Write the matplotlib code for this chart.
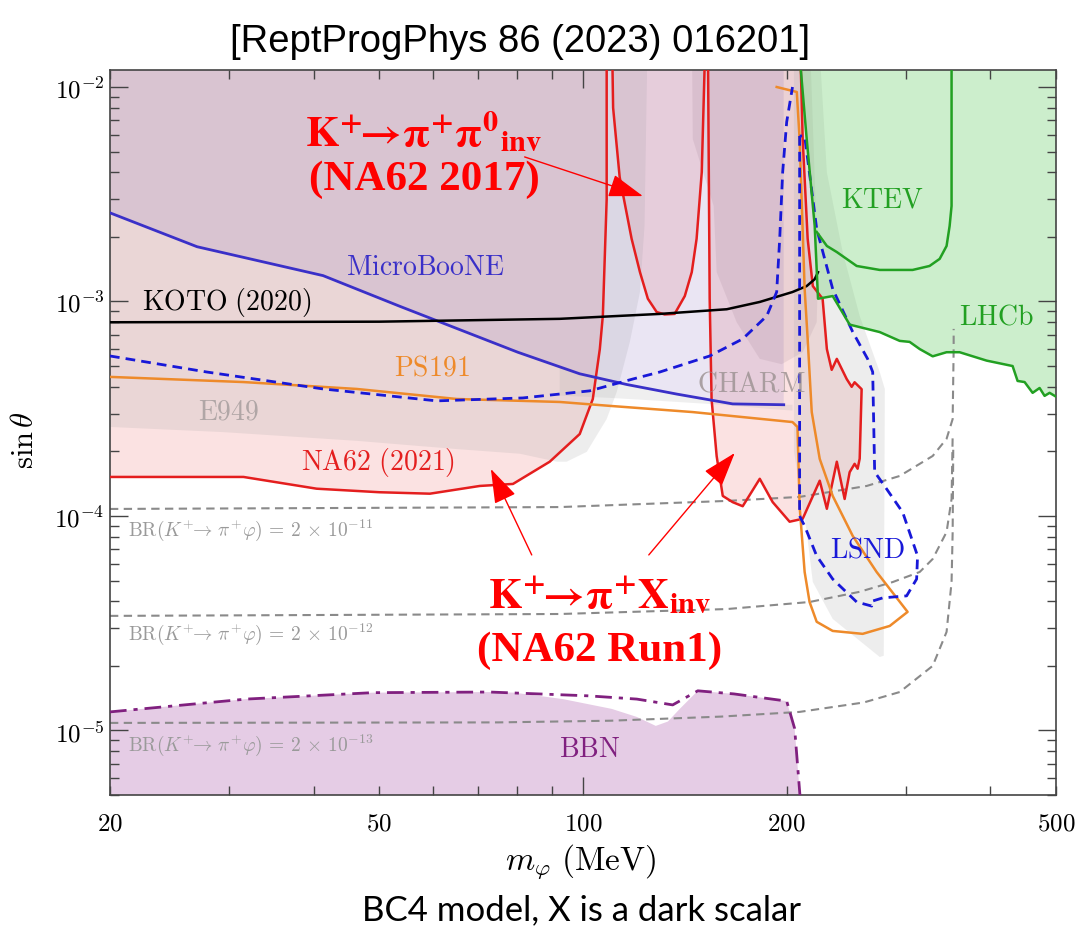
import numpy as np
import matplotlib
matplotlib.use("Agg")
import matplotlib.pyplot as plt
from matplotlib.ticker import FixedLocator, NullFormatter, LogLocator

plt.rcParams['mathtext.fontset'] = 'cm'
plt.rcParams['font.family'] = ['DejaVu Serif']

TOP = 2e-2      # polygons are closed above / below the visible window
BOT = 1e-6

# ---------------- data (mass in MeV, sin theta) ----------------
# NA62 (2021) K+ -> pi+ X exclusion
na62_21_x = [20, 31.5, 40.4, 50, 59.4, 70.4, 78.8, 89.3, 98.9, 103.4, 105.9, 107, 108.4, 108.4]
na62_21_y = [1.52e-4, 1.52e-4, 1.34e-4, 1.29e-4, 1.27e-4, 1.38e-4, 1.41e-4, 1.79e-4, 2.41e-4,
             3.51e-4, 6.0e-4, 8.6e-4, 3e-3, TOP]

# NA62 2017 K+ -> pi+ pi0_inv (U shape)
na62_17_x = [110.3, 110.8, 113.3, 118.0, 121.4, 124.7, 128.5, 132.0, 136.6, 141.4, 144.8, 147.2, 149.8, 151.9]
na62_17_y = [TOP, 8e-3, 3.8e-3, 1.96e-3, 1.37e-3, 1.03e-3, 8.93e-4, 8.7e-4, 8.75e-4, 1.06e-3,
             1.37e-3, 1.96e-3, 4.0e-3, TOP]

# NA62 Run1 K+ -> pi+ X_inv
na62_r1_x = [152.9, 153.9, 154.9, 157.6, 160.9, 166.4, 172.2, 182.5, 190.7, 202, 211.2, 223.8, 229.3,
             237.2, 243.6, 247.8, 252, 254.6, 256.4, 258.1, 252, 249.5, 245.3, 237.2, 233.1, 229.3,
             226, 218.6, 214.8, 211.2, 209]
na62_r1_y = [TOP, 1.03e-3, 3.5e-4, 1.9e-4, 1.24e-4, 1.16e-4, 1.11e-4, 1.49e-4, 1.16e-4, 9.4e-5, 9.7e-5,
             1.46e-4, 1.08e-4, 1.79e-4, 1.2e-4, 1.6e-4, 1.75e-4, 1.66e-4, 1.85e-4, 3.9e-4, 4.2e-4,
             4.0e-4, 4.35e-4, 5.4e-4, 4.8e-4, 6.0e-4, 1.03e-3, 1.18e-3, 1.96e-3, 5.7e-3, TOP]

# E949 (grey)
e949_x = [20, 29.4, 46.3, 65.1, 80.7, 91.5, 94.6, 101.3, 108.4, 112.2, 117.3, 121.4, 123.3, 124.7]
e949_y = [2.6e-4, 2.46e-4, 2.24e-4, 2.05e-4, 1.95e-4, 1.79e-4, 1.79e-4, 1.99e-4, 2.83e-4, 3.79e-4,
          6.48e-4, 1.107e-3, 2.25e-3, TOP]

# MicroBooNE
uboone_x = [20, 26.9, 41.3, 53.6, 80.1, 98.9, 116.1, 137.6, 166.4, 198]
uboone_y = [2.59e-3, 1.8e-3, 1.32e-3, 9.5e-4, 5.8e-4, 4.6e-4, 4.1e-4, 3.7e-4, 3.33e-4, 3.3e-4]

# CHARM: light band and darker bulb
charm_band_x = [92.4, 110, 130, 160, 190, 204, 204, 198, 166.4, 137.6, 116.1, 98.9, 92.4]
charm_band_y = [3.64e-4, 3.55e-4, 3.44e-4, 3.3e-4, 3.15e-4, 3.1e-4, 3.3e-4, 3.3e-4, 3.33e-4, 3.7e-4,
                4.1e-4, 4.6e-4, 5.0e-4]
charm_bulb_x = [144.8, 145.3, 156, 157.6, 168.7, 182.5, 196.6, 211.2, 221.5, 222.5, 216]
charm_bulb_y = [TOP, 5.72e-3, 2.79e-3, 1.37e-3, 8.0e-4, 5.4e-4, 5.1e-4, 5.8e-4, 8.0e-4, 1.37e-3, TOP]

# LSND grey region
lsnd_reg_x = [205, 222.5, 229.3, 242, 256.4, 274.5, 279.3, 278.3, 274.5, 233.9, 218.6, 214.1, 205]
lsnd_reg_y = [TOP, TOP, 4.0e-3, 1.7e-3, 8.56e-4, 4.69e-4, 3.91e-4, 2.23e-5, 2.2e-5, 3.31e-5, 4.92e-5,
              8.42e-5, 2e-4]

# LSND dashed contour
lsnd_x = [209, 209, 209, 212.6, 221.5, 233.9, 253.8, 267.1, 267.1, 277.4, 300.8, 311.2, 312.2, 296.8,
          281, 269.8, 268, 263.4, 250.4, 233.9, 221.5, 212.6, 209]
lsnd_y = [5.91e-3, 5.4e-4, 1.0e-4, 8.98e-5, 6.51e-5, 5.08e-5, 3.97e-5, 3.8e-5, 4.0e-5, 4.15e-5,
          4.24e-5, 5.08e-5, 6.51e-5, 1.04e-4, 1.336e-4, 1.604e-4, 4.69e-4, 5.4e-4, 7.21e-4,
          1.144e-3, 2.18e-3, 5.91e-3, 5.91e-3]

# blue dashed curve (lower-left)
bdash_x = [20, 27.8, 41.3, 60.8, 81.5, 102.3, 118.5, 129.9, 153.9, 172.2, 186.9, 193.3, 195.3, 197.3, 200, 204]
bdash_y = [5.57e-4, 4.69e-4, 3.91e-4, 3.44e-4, 3.55e-4, 3.83e-4, 4.35e-4, 4.69e-4, 5.57e-4, 6.69e-4,
           8.56e-4, 1.107e-3, 1.956e-3, 4.02e-3, 6.87e-3, 1.0e-2]

# KOTO (2020)
koto_x = [20, 50, 92.4, 129.9, 163.1, 182.5, 204, 214.1, 220, 222.5]
koto_y = [8.0e-4, 8.05e-4, 8.3e-4, 8.75e-4, 9.2e-4, 9.95e-4, 1.107e-3, 1.18e-3, 1.27e-3, 1.37e-3]

# PS191
ps191_x = [20, 31.5, 46.3, 65.1, 92.4, 109.6, 145.3, 204, 207.5, 209, 212.6, 216.2, 221.5, 233.9, 259,
           284, 301.8, 271.6, 250.4, 233.9, 223.8, 217.8, 214.8, 212.6, 209, 207, 193.3]
ps191_y = [4.45e-4, 4.21e-4, 3.91e-4, 3.51e-4, 3.4e-4, 3.26e-4, 3.05e-4, 2.74e-4, 2.6e-4, 1.11e-4,
           5.48e-5, 3.97e-5, 3.21e-5, 2.91e-5, 2.82e-5, 3.07e-5, 3.57e-5, 5.48e-5, 8.07e-5, 1.24e-4,
           1.845e-4, 3.05e-4, 6.69e-4, 1.144e-3, 5.72e-3, 9.48e-3, 1.0e-2]

# KTEV + LHCb (green)
green_x = [207, 214.1, 220, 222.5, 233.9, 247.8, 274.5, 293.8, 303.9, 314.5, 328.7, 344.6, 360.2,
           394.9, 431.4, 438.8, 449.4, 461.8, 472.9, 481, 489.3, 500]
green_y = [TOP, 5.72e-3, 2.25e-3, 1.03e-3, 1.06e-3, 7.8e-4, 7.2e-4, 6.55e-4, 6.48e-4, 6.0e-4, 5.55e-4,
           5.8e-4, 5.8e-4, 5.3e-4, 5.0e-4, 4.26e-4, 4.21e-4, 3.75e-4, 3.95e-4, 3.63e-4, 3.75e-4, 3.6e-4]
ktev_x = [221.5, 229.3, 237.2, 253.8, 274.5, 307, 325.2, 336.6, 344.6, 348.2, 350.5, 350.5]
ktev_y = [2.11e-3, 1.815e-3, 1.7e-3, 1.464e-3, 1.403e-3, 1.403e-3, 1.464e-3, 1.58e-3, 1.815e-3,
          2.25e-3, 2.79e-3, TOP]

# BBN
bbn_fill_x = [20, 31.8, 48.9, 72.8, 79.2, 93.4, 110.3, 120.1, 128.1, 133.5, 139, 147.8, 167.1, 200, 205.5, 210.4]
bbn_fill_y = [1.22e-5, 1.4e-5, 1.5e-5, 1.51e-5, 1.5e-5, 1.4e-5, 1.26e-5, 1.156e-5, 1.05e-5, 1.1e-5,
              1.26e-5, 1.53e-5, 1.48e-5, 1.37e-5, 1.02e-5, 4.0e-6]
bbn_x = [20, 31.8, 48.9, 72.8, 101.6, 120.1, 135.7, 147.8, 167.1, 200, 205.5, 210.4]
bbn_y = [1.22e-5, 1.4e-5, 1.5e-5, 1.51e-5, 1.45e-5, 1.4e-5, 1.315e-5, 1.53e-5, 1.48e-5, 1.37e-5, 1.02e-5, 4.0e-6]

# BR(K+ -> pi+ phi) contours
br1_x = [20, 92.4, 163.1, 209, 262.6, 293.8, 328.7, 344.6, 351.8, 353, 353]
br1_y = [1.078e-4, 1.10e-4, 1.175e-4, 1.227e-4, 1.38e-4, 1.536e-4, 1.904e-4, 2.29e-4, 2.83e-4, 6.0e-4, 7.45e-4]
br2_x = [20, 92.4, 163.1, 216.2, 256.4, 287, 314.5, 328.7, 344.6, 350.5, 351.8]
br2_y = [3.42e-5, 3.49e-5, 3.68e-5, 3.97e-5, 4.43e-5, 4.92e-5, 5.48e-5, 6.3e-5, 8.42e-5, 1.2e-4, 2.36e-4]
br3_x = [20, 75, 110, 160, 209, 260, 293.8, 328.7, 344.6, 350.5, 351.8, 352.5]
br3_y = [1.084e-5, 1.09e-5, 1.11e-5, 1.16e-5, 1.22e-5, 1.35e-5, 1.51e-5, 2.0e-5, 2.88e-5, 4.92e-5, 8.42e-5, 2.05e-4]
br_labels = [r'$\mathrm{BR}(K^{+}\!\!\rightarrow\,\pi^{+}\varphi)\,=\,2\,\times\,10^{-11}$',
             r'$\mathrm{BR}(K^{+}\!\!\rightarrow\,\pi^{+}\varphi)\,=\,2\,\times\,10^{-12}$',
             r'$\mathrm{BR}(K^{+}\!\!\rightarrow\,\pi^{+}\varphi)\,=\,2\,\times\,10^{-13}$']

xticks_minor = [20, 30, 40, 50, 60, 70, 80, 90, 200, 300, 400, 500]
xlabels_minor = ['$20$', '', '', '$50$', '', '', '', '', '$200$', '', '', '$500$']

RED = '#e41e1e'

# ---------------- figure ----------------
fig = plt.figure(figsize=(10.75, 9.37), dpi=100)
ax = fig.add_axes([0.1023, 0.1505, 0.88, 0.7737])
ax.set_xscale('log')
ax.set_yscale('log')

# fills
ax.fill(na62_21_x + [20], na62_21_y + [TOP], fc=(0.96, 0.63, 0.63), alpha=0.3, lw=0, zorder=1)
ax.fill(na62_17_x, na62_17_y, fc=(0.96, 0.63, 0.63), alpha=0.3, lw=0, zorder=1)
ax.fill(na62_r1_x, na62_r1_y, fc=(0.96, 0.63, 0.63), alpha=0.3, lw=0, zorder=1)
ax.fill(e949_x + [20], e949_y + [TOP], fc='#a0a0a0', alpha=0.18, lw=0, zorder=1.1)
ax.fill(uboone_x + [198, 20], uboone_y + [TOP, TOP], fc=(0.55, 0.45, 0.75), alpha=0.18, lw=0, zorder=1.2)
ax.fill(charm_band_x, charm_band_y, fc='#a0a0a0', alpha=0.16, lw=0, zorder=1.3)
ax.fill(charm_bulb_x, charm_bulb_y, fc='#907080', alpha=0.14, lw=0, zorder=1.3)
ax.fill(lsnd_reg_x, lsnd_reg_y, fc='#b0b0b0', alpha=0.22, lw=0, zorder=1.3)
ax.fill(green_x + [500], green_y + [TOP], fc='#6fcf6f', alpha=0.35, lw=0, zorder=1.4)
ax.fill(bbn_fill_x + [210.4, 20], bbn_fill_y + [BOT, BOT], fc='#800080', alpha=0.2, lw=0, zorder=1.4)

# BR dashed lines
for bx, by in [(br1_x, br1_y), (br2_x, br2_y), (br3_x, br3_y)]:
    ax.plot(bx, by, color='#8a8a8a', lw=1.5, dashes=(4, 2.6), zorder=2)

# boundary lines
ax.plot(na62_21_x, na62_21_y, color=RED, lw=1.8, zorder=3)
ax.plot(na62_17_x, na62_17_y, color=RED, lw=1.8, zorder=3)
ax.plot(na62_r1_x, na62_r1_y, color=RED, lw=1.8, zorder=3)
ax.plot(uboone_x, uboone_y, color='#3a30c8', lw=2.0, zorder=3)
ax.plot(koto_x, koto_y, color='black', lw=1.8, zorder=3)
ax.plot(ps191_x, ps191_y, color='#ee8a2a', lw=1.8, zorder=3)
ax.plot(bdash_x, bdash_y, color='#1818d8', lw=2.0, dashes=(3.5, 2.2), zorder=3)
ax.plot(lsnd_x, lsnd_y, color='#1818d8', lw=2.0, dashes=(3.5, 2.2), zorder=3)
ax.plot(green_x, green_y, color='#22a022', lw=1.8, zorder=3)
ax.plot(ktev_x, ktev_y, color='#22a022', lw=1.8, zorder=3)
ax.plot(bbn_x, bbn_y, color='#80207f', lw=2.0, dashes=(6, 2.5, 1.5, 2.5), zorder=3)

# labels of the experiments
lab = dict(fontsize=20, ha='center', va='center', zorder=5)
ax.text(58.4, 1.46e-3, r'$\mathrm{MicroBooNE}$', color='#3a30c8', **lab)
ax.text(29.8, 1.0e-3, r'$\mathrm{KOTO\ (2020)}$', color='black', **lab)
ax.text(59.8, 4.96e-4, r'$\mathrm{PS191}$', color='#ee8a2a', **lab)
ax.text(29.9, 3.09e-4, r'$\mathrm{E949}$', color='#b0a6a6', **lab)
ax.text(49.8, 1.79e-4, r'$\mathrm{NA62\ (2021)}$', color=RED, **lab)
ax.text(177.6, 4.17e-4, r'$\mathrm{CHARM}$', color='#9a9090', alpha=0.8, **lab)
ax.text(277.4, 3.0e-3, r'$\mathrm{KTEV}$', color='#22a022', **lab)
ax.text(408.6, 8.56e-4, r'$\mathrm{LHCb}$', color='#22a022', **lab)
ax.text(263.4, 7.0e-5, r'$\mathrm{LSND}$', color='#1818d8', **lab)
ax.text(102.3, 8.2e-6, r'$\mathrm{BBN}$', color='#80207f', **lab)
for lbl, yy in zip(br_labels, [8.7e-5, 2.85e-5, 8.65e-6]):
    ax.text(21.3, yy, lbl, color='#9a9a9a', fontsize=14, ha='left', va='center', zorder=5)

# red annotations
ax.text(58.2, 6.24e-3, r'$\mathbf{K^{+}\!\!\rightarrow\!\pi^{+}\pi^{0}{}_{inv}}$', color='red',
        fontsize=31, ha='center', va='center', math_fontfamily='stix', zorder=6)
ax.text(58.2, 3.73e-3, '(NA62 2017)', color='red', fontsize=31, fontweight='bold',
        family='Liberation Serif', ha='center', va='center', zorder=6)
ax.text(105.9, 4.33e-5, r'$\mathbf{K^{+}\!\!\rightarrow\!\pi^{+}X_{inv}}$', color='red',
        fontsize=31, ha='center', va='center', math_fontfamily='stix', zorder=6)
ax.text(105.9, 2.37e-5, '(NA62 Run1)', color='red', fontsize=31, fontweight='bold',
        family='Liberation Serif', ha='center', va='center', zorder=6)
arr = dict(arrowstyle='-|>,head_length=1.2,head_width=0.4', color='red', lw=1.0,
           mutation_scale=18, shrinkA=0, shrinkB=0)
ax.annotate('', xy=(122.6, 3.1e-3), xytext=(82.0, 4.72e-3), arrowprops=arr, zorder=6)
ax.annotate('', xy=(73.1, 1.656e-4), xytext=(84.0, 6.58e-5), arrowprops=arr, zorder=6)
ax.annotate('', xy=(167.6, 1.966e-4), xytext=(125.1, 6.58e-5), arrowprops=arr, zorder=6)

# axes
ax.set_xlim(20, 500)
ax.set_ylim(5e-6, 1.2e-2)
ax.xaxis.set_major_locator(FixedLocator([100]))
ax.set_xticklabels(['$100$'])
ax.set_xticks(xticks_minor, minor=True)
ax.set_xticklabels(xlabels_minor, minor=True)
ax.yaxis.set_major_locator(FixedLocator([1e-5, 1e-4, 1e-3, 1e-2]))
ax.set_yticklabels([r'$10^{-5}$', r'$10^{-4}$', r'$10^{-3}$', r'$10^{-2}$'])
ax.yaxis.set_minor_locator(LogLocator(base=10, subs=np.arange(2, 10)))
ax.yaxis.set_minor_formatter(NullFormatter())
ax.tick_params(which='both', direction='in', top=True, right=True, color='#444444', width=1.0,
               labelsize=18)
ax.tick_params(which='major', length=13)
ax.tick_params(which='minor', length=6.5)
ax.tick_params(axis='x', which='both', pad=12)
ax.tick_params(axis='y', which='both', pad=4)
for s in ax.spines.values():
    s.set_color('#444444')
    s.set_linewidth(1.2)

fig.text(0.540, 0.080, r'$m_{\varphi}\ (\mathrm{MeV})$', fontsize=24, ha='center', va='center')
fig.text(0.023, 0.53, r'$\sin\theta$', fontsize=22, rotation=90, ha='center', va='center')
fig.text(0.484, 0.955, '[ReptProgPhys 86 (2023) 016201]', family='Liberation Sans', fontsize=27.5,
         ha='center', va='center')
fig.text(0.541, 0.029, 'BC4 model, X is a dark scalar', family='Lato', fontsize=25,
         ha='center', va='center')

fig.savefig('out.png', dpi=100)
